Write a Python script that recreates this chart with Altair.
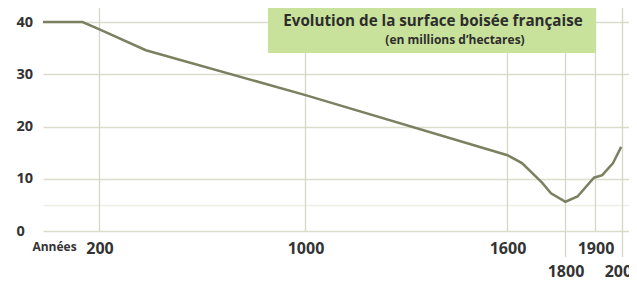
import altair as alt
import pandas as pd

# ---- data ----
years = [0, 140, 200, 380, 1000, 1600, 1650, 1720, 1750, 1800, 1840, 1895, 1925, 1965, 1995]
surface = [40, 40, 38.6, 34.6, 26.0, 14.5, 13.0, 9.2, 7.2, 5.6, 6.6, 10.2, 10.7, 13.0, 16.1]
x_ticks = [200, 1000, 1600, 1800, 1900, 2000]
x_ticks_upper = [200, 1000, 1600, 1900]
x_ticks_lower = [1800, 2000]
y_ticks = [0, 5, 10, 20, 30, 40]
title_line1 = ["Evolution de la surface boisée française"]
title_line2 = ["(en millions d’hectares)"]
x_title = "Années"

df = pd.DataFrame({"year": years, "surface": surface})

# piecewise (non-uniform) time axis as in the original figure
scale_domain = [0, 200, 1000, 1600, 1800, 1900, 2000, 2025]
scale_range = [0, 56.5, 262.5, 464.5, 522.5, 552.5, 579.5, 586]
x_scale = alt.Scale(domain=scale_domain, range=scale_range, nice=False)
y_scale = alt.Scale(domain=[0, 42.68], nice=False, zero=True)

GRID = "#dcdccd"
VGRID = "#d6d6c6"
TXT = "#333333"
FONT = "Open Sans"
low = "datum.value == 1800 || datum.value == 2000"

x_axis = alt.Axis(
    values=x_ticks, format="d", title=x_title, grid=False, domain=False, ticks=False,
    labelPadding={"condition": {"test": low, "value": 40}, "value": 17},
    labelBaseline="middle", labelFont=FONT, labelFontSize=16, labelFontWeight="bold",
    labelColor=TXT, labelFlush=False, labelOverlap=False, labelBound=False,
    titleFont=FONT, titleFontSize=12, titleFontWeight="bold", titleColor=TXT,
    titleX=11, titleY=15, titleAlign="center", titleBaseline="middle",
)

y_axis = alt.Axis(
    values=y_ticks, labelExpr="datum.value == 5 ? '' : datum.label",
    ticks=False, domain=False, title="",
    gridColor={"condition": {"test": "datum.value == 5", "value": "#efefe6"}, "value": GRID},
    gridWidth=1.3,
    labelAlign="left", labelPadding=27, labelBaseline="middle",
    labelFont=FONT, labelFontSize=14.5, labelFontWeight="bold", labelColor=TXT,
)

vgrid_up = alt.Chart(pd.DataFrame({"year": x_ticks_upper})).mark_rule(color=VGRID, strokeWidth=1.3).encode(
    x=alt.X("year:Q", scale=x_scale, axis=x_axis), y=alt.value(0), y2=alt.value(223)
)
vgrid_low = alt.Chart(pd.DataFrame({"year": x_ticks_lower})).mark_rule(color=VGRID, strokeWidth=1.3).encode(
    x=alt.X("year:Q", scale=x_scale), y=alt.value(0), y2=alt.value(249)
)

line = alt.Chart(df).mark_line(color="#7b8060", strokeWidth=2.5).encode(
    x=alt.X("year:Q", scale=x_scale, axis=x_axis),
    y=alt.Y("surface:Q", scale=y_scale, axis=y_axis),
)

box = alt.Chart(pd.DataFrame({"t": title_line1})).mark_rect(color="#c8e29c").encode(
    x=alt.value(225), x2=alt.value(553), y=alt.value(0), y2=alt.value(45)
)

t1 = alt.Chart(pd.DataFrame({"t": title_line1})).mark_text(
    font=FONT, fontSize=15.2, fontWeight="bold", color="#2d2d2d", align="center", baseline="middle"
).encode(text="t:N", x=alt.value(390), y=alt.value(13))

t2 = alt.Chart(pd.DataFrame({"t": title_line2})).mark_text(
    font=FONT, fontSize=12, fontWeight="bold", color="#2d2d2d", align="center", baseline="middle"
).encode(text="t:N", x=alt.value(412), y=alt.value(31.5))

chart = alt.layer(vgrid_up, vgrid_low, line, box, t1, t2).properties(
    width=586, height=223,
    autosize=alt.AutoSizeParams(type="none"),
    padding={"left": 35, "top": 0, "right": 0, "bottom": 50},
    background="white",
).configure_view(strokeOpacity=0)

chart.save("out.html", embed_options={"renderer": "svg", "actions": False})
